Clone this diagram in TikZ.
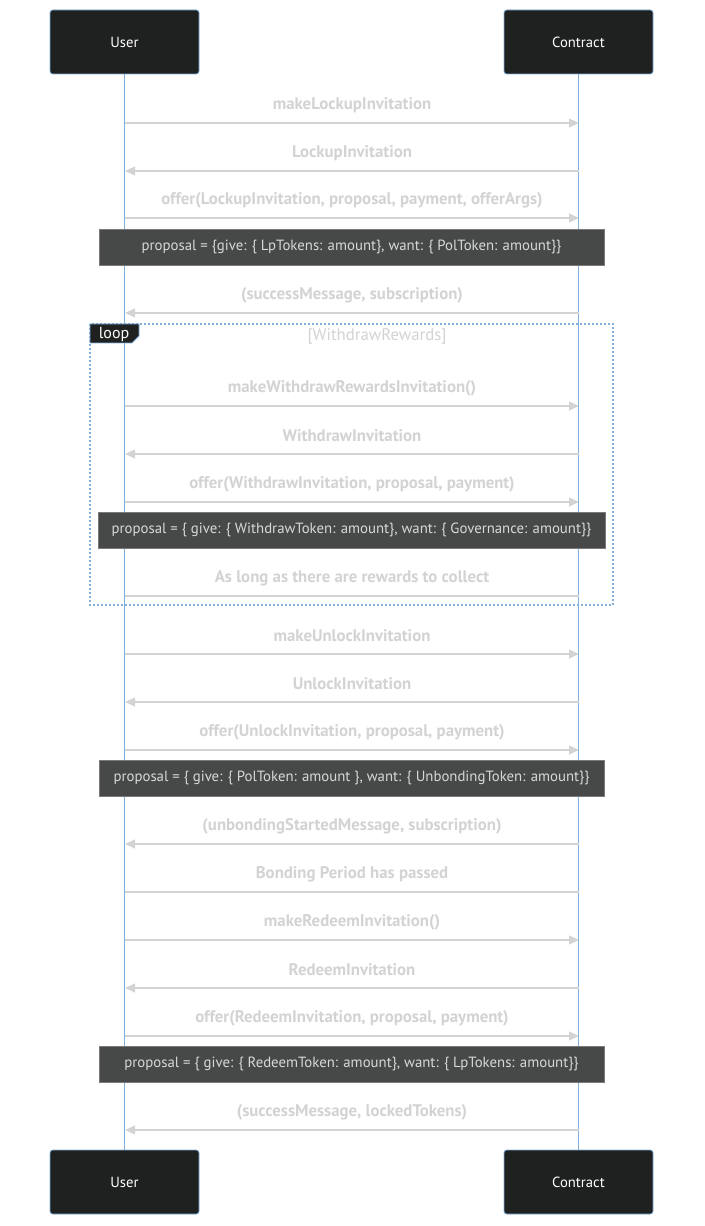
\documentclass[tikz,border=0pt]{standalone}
\usepackage{fontspec}
\setmainfont{PT Sans}
\usetikzlibrary{arrows.meta}
\definecolor{actorfill}{HTML}{1F2020}
\definecolor{actorborder}{HTML}{81B1DB}
\definecolor{life}{HTML}{81B1DB}
\definecolor{msgc}{HTML}{D3D3D3}
\definecolor{notefill}{HTML}{474949}
\definecolor{notetext}{HTML}{D8D8D8}
\definecolor{noteborder}{HTML}{7A7A7A}
\tikzset{
  actor/.style={draw=actorborder, fill=actorfill, text=white, rounded corners=2pt,
    minimum width=111.75pt, minimum height=48pt, inner sep=0pt, line width=0.6pt,
    font=\fontsize{11}{13}\selectfont},
  lifeline/.style={draw=life, line width=1.4pt},
  msg/.style={draw=msgc, line width=1.4pt},
  msgtip/.style={-{Triangle[length=7.5pt,width=6.5pt]}},
  msglabel/.style={text=msgc, inner sep=0pt, font=\fontsize{12.6}{14}\selectfont\bfseries},
  note/.style={draw=noteborder, fill=notefill, text=notetext, inner sep=0pt,
    minimum height=27pt, line width=0.6pt, font=\fontsize{11.1}{13}\selectfont},
  loopframe/.style={draw=life, line width=1.5pt, dash pattern=on 1.5pt off 1.5pt},
  looptag/.style={fill=actorfill, draw=life, line width=0.6pt},
}
\newcommand\msgR[3]{%
  \coordinate (#1a) at (125,#2); \coordinate (#1b) at (579,#2);
  \draw[msg,msgtip] (#1a) -- (#1b);
  \node[msglabel] (#1l) at (352,#2-18) {#3};}
\newcommand\msgL[3]{%
  \coordinate (#1a) at (579,#2); \coordinate (#1b) at (125,#2);
  \draw[msg,msgtip] (#1a) -- (#1b);
  \node[msglabel] (#1l) at (352,#2-18) {#3};}
\newcommand\msgN[3]{%
  \coordinate (#1a) at (125,#2); \coordinate (#1b) at (579,#2);
  \draw[msg] (#1a) -- (#1b);
  \node[msglabel] (#1l) at (352,#2-18) {#3};}
\begin{document}
\begin{tikzpicture}[x=0.75pt,y=-0.75pt]
\useasboundingbox[fill=white] (0,0) rectangle (704,1226);
% actors
\node[actor] (ut) at (124.5,42) {User};
\node[actor] (ct) at (578.5,42) {Contract};
\node[actor] (ub) at (124.5,1182) {User};
\node[actor] (cb) at (578.5,1182) {Contract};
% lifelines
\draw[lifeline] (ut.south) -- (ub.north);
\draw[lifeline] (ct.south) -- (cb.north);
% loop frame
\draw[loopframe] (90,324) rectangle (613,605);
\draw[looptag] (90,324) -- (139,324) -- (139,336) -- (132,343) -- (90,343) -- cycle;
\node[text=white, inner sep=0pt, font=\fontsize{12}{14}\selectfont] (looplbl) at (114,334.5) {loop};
\node[msglabel, font=\fontsize{12.6}{14}\selectfont] (loopcond) at (377,336) {[WithdrawRewards]};
% messages
\msgR{m1}{123}{makeLockupInvitation}
\msgL{m2}{171}{LockupInvitation}
\msgR{m3}{218}{offer(LockupInvitation, proposal, payment, offerArgs)}
\node[note, minimum width=378.75pt] (n1) at (351.5,247) {proposal = \{give: \{ LpTokens: amount\}, want: \{ PolToken: amount\}\}};
\msgL{m4}{313}{(successMessage, subscription)}
\msgR{m5}{406}{makeWithdrawRewardsInvitation()}
\msgL{m6}{454}{WithdrawInvitation}
\msgR{m7}{502}{offer(WithdrawInvitation, proposal, payment)}
\node[note, minimum width=380.25pt] (n2) at (351.5,530) {proposal = \{ give: \{ WithdrawToken: amount\}, want: \{ Governance: amount\}\}};
\msgN{m8}{596}{As long as there are rewards to collect}
\msgR{m9}{654}{makeUnlockInvitation}
\msgL{m10}{702}{UnlockInvitation}
\msgR{m11}{750}{offer(UnlockInvitation, proposal, payment)}
\node[note, minimum width=378.75pt] (n3) at (351.5,778) {proposal = \{ give: \{ PolToken: amount \}, want: \{ UnbondingToken: amount\}\}};
\msgL{m12}{844}{(unbondingStartedMessage, subscription)}
\msgN{m13}{892}{Bonding Period has passed}
\msgR{m14}{940}{makeRedeemInvitation()}
\msgL{m15}{988}{RedeemInvitation}
\msgR{m16}{1036}{offer(RedeemInvitation, proposal, payment)}
\node[note, minimum width=378.75pt] (n4) at (351.5,1064) {proposal = \{ give: \{ RedeemToken: amount\}, want: \{ LpTokens: amount\}\}};
\msgL{m17}{1130}{(successMessage, lockedTokens)}
\end{tikzpicture}
\end{document}
